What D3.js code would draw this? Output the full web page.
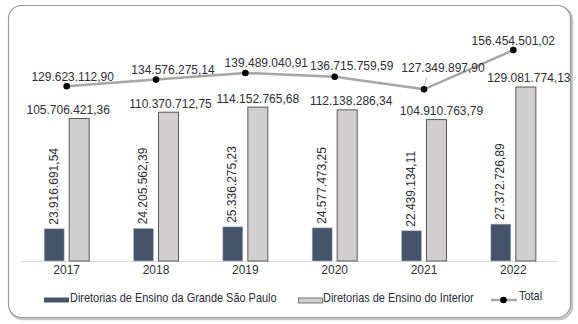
<!DOCTYPE html>
<html><head><meta charset="utf-8">
<script src="https://cdn.jsdelivr.net/npm/d3@7/dist/d3.min.js"></script>
<style>
html,body{margin:0;padding:0;background:#fff;}
svg{display:block;}
text{font-family:"Liberation Sans",Arial,sans-serif;}
</style></head>
<body>
<svg id="chart" width="578" height="324"></svg>
<script>
const years = ["2017","2018","2019","2020","2021","2022"];
const grandeSP = [23916691.54, 24205562.39, 25336275.23, 24577473.25, 22439134.11, 27372726.89];
const interior = [105706421.36, 110370712.75, 114152765.68, 112138286.34, 104910763.79, 129081774.13];
const total = [129623112.90, 134576275.14, 139489040.91, 136715759.59, 127349897.90, 156454501.02];
const seriesNames = ["Diretorias de Ensino da Grande São Paulo", "Diretorias de Ensino do Interior", "Total"];

const fmt = v => {
  const s = v.toFixed(2).split(".");
  return s[0].replace(/\B(?=(\d{3})+(?!\d))/g, ".") + "," + s[1];
};

// manual label placement offsets, as in the reference
const totalLabelDx = [6, 17, 21, 17, 19, 0];
const totalLabelDy = [-5, -5.6, -6.3, -6.7, -17, -5];
const interiorLabelDx = [-11, 2, 0, 4, 5, 3];

const svg = d3.select("#chart");
const textColor = "#2e2e36";

// frame
svg.append("rect").attr("x",10).attr("y",7).attr("width",562).attr("height",312)
  .attr("rx",13).attr("fill","none").attr("stroke","#c4c4c4").attr("stroke-width",2.5);
svg.append("rect").attr("x",8.5).attr("y",5.5).attr("width",562).attr("height",312)
  .attr("rx",13).attr("fill","#fff").attr("stroke","#9a9a9a").attr("stroke-width",1.2);

const x = d3.scaleBand().domain(years).range([22,558]).paddingInner(0.496).paddingOuter(0.248);
const xs = d3.scaleBand().domain(["sp","int"]).range([0, x.bandwidth()]).paddingInner(0.2);
const y = d3.scaleLinear().domain([0,180e6]).range([261, 261-180*1.348]);

// axis
const axis = svg.append("g").attr("transform","translate(0,261)")
  .call(d3.axisBottom(x).tickSize(0).tickPadding(4));
axis.select(".domain").attr("stroke","#d9d9d9").attr("stroke-width",1).attr("d","M22,0.5H558");
axis.selectAll("text").attr("font-size",12).attr("fill",textColor)
  .attr("font-family","'Liberation Sans',Arial,sans-serif");

// bars
const g = svg.append("g");
g.selectAll("rect.sp").data(years).join("rect").attr("class","sp")
  .attr("x", d => x(d) + xs("sp"))
  .attr("y", (d,i) => y(grandeSP[i]))
  .attr("width", xs.bandwidth())
  .attr("height", (d,i) => y(0) - y(grandeSP[i]))
  .attr("fill","#44546a").attr("stroke","#b7bec8").attr("stroke-width",0.6);
g.selectAll("rect.int").data(years).join("rect").attr("class","int")
  .attr("x", d => x(d) + xs("int"))
  .attr("y", (d,i) => y(interior[i]))
  .attr("width", xs.bandwidth())
  .attr("height", (d,i) => y(0) - y(interior[i]))
  .attr("fill","#d0cece").attr("stroke","#5a5a5a").attr("stroke-width",1);

// bar labels
g.selectAll("text.sp").data(years).join("text").attr("class","sp")
  .attr("transform", (d,i) => `translate(${x(d)+xs("sp")+xs.bandwidth()/2+3.5},${y(grandeSP[i])-4}) rotate(-90)`)
  .attr("font-size",12).attr("fill",textColor).attr("text-anchor","start")
  .text((d,i) => fmt(grandeSP[i]));
g.selectAll("text.int").data(years).join("text").attr("class","int")
  .attr("x", (d,i) => x(d) + xs("int") + xs.bandwidth()/2 + interiorLabelDx[i])
  .attr("y", (d,i) => y(interior[i]) - 4.5)
  .attr("font-size",12).attr("fill",textColor).attr("text-anchor","middle")
  .text((d,i) => fmt(interior[i]));

// total line
const cx = d => x(d) + x.bandwidth()/2;
const line = d3.line().x((d,i) => cx(years[i])).y(d => y(d));
svg.append("path").datum(total).attr("d", line).attr("fill","none")
  .attr("stroke","#a6a6a6").attr("stroke-width",2.5);
// leader line for 2021
svg.append("line")
  .attr("x1", cx("2021") + 3).attr("y1", y(total[4]) + totalLabelDy[4] + 5)
  .attr("x2", cx("2021")).attr("y2", y(total[4]) - 3.5)
  .attr("stroke","#a6a6a6").attr("stroke-width",0.8);
svg.selectAll("circle.tot").data(total).join("circle").attr("class","tot")
  .attr("cx", (d,i) => cx(years[i])).attr("cy", d => y(d)).attr("r",3.3).attr("fill","#000");
svg.selectAll("text.tot").data(total).join("text").attr("class","tot")
  .attr("x", (d,i) => cx(years[i]) + totalLabelDx[i])
  .attr("y", (d,i) => y(d) + totalLabelDy[i])
  .attr("font-size",12).attr("fill",textColor).attr("text-anchor","middle")
  .text(d => fmt(d));

// legend
const lg = svg.append("g");
lg.append("rect").attr("x",44).attr("y",297.5).attr("width",25).attr("height",5).attr("fill","#44546a");
lg.append("text").attr("transform","translate(70,302) scale(0.875,1)").attr("font-size",12.5)
  .attr("fill","#2a2a3a").text(seriesNames[0]);
lg.append("rect").attr("x",298.5).attr("y",298).attr("width",24).attr("height",5)
  .attr("fill","#d0cece").attr("stroke","#5a5a5a").attr("stroke-width",0.8);
lg.append("text").attr("transform","translate(323,302) scale(0.875,1)").attr("font-size",12.5)
  .attr("fill","#2a2a3a").text(seriesNames[1]);
lg.append("line").attr("x1",491).attr("x2",517).attr("y1",300).attr("y2",300)
  .attr("stroke","#a6a6a6").attr("stroke-width",2.5);
lg.append("circle").attr("cx",503.5).attr("cy",300).attr("r",3.3).attr("fill","#000");
lg.append("text").attr("transform","translate(519,300) scale(0.875,1)").attr("font-size",12.5)
  .attr("fill","#2a2a3a").text(seriesNames[2]);
</script>
</body></html>
